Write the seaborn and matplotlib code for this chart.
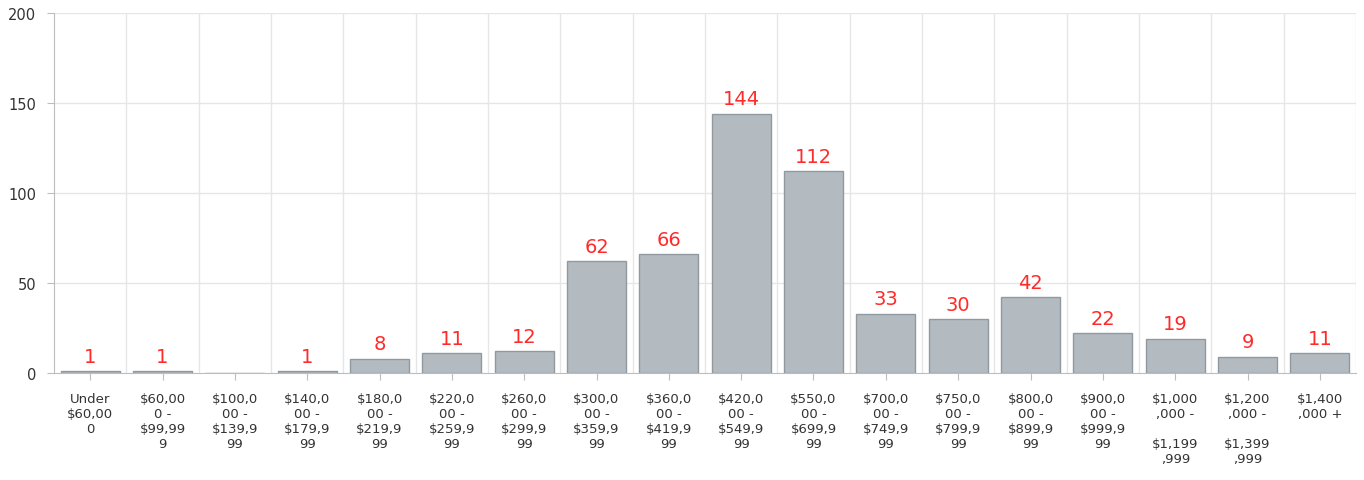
import pandas as pd
import numpy as np
import matplotlib.pyplot as plt
import seaborn as sns

# price ranges (tick labels wrapped as in the original)
categories = [
    "Under\n$60,00\n0", "$60,00\n0 -\n$99,99\n9", "$100,0\n00 -\n$139,9\n99",
    "$140,0\n00 -\n$179,9\n99", "$180,0\n00 -\n$219,9\n99", "$220,0\n00 -\n$259,9\n99",
    "$260,0\n00 -\n$299,9\n99", "$300,0\n00 -\n$359,9\n99", "$360,0\n00 -\n$419,9\n99",
    "$420,0\n00 -\n$549,9\n99", "$550,0\n00 -\n$699,9\n99", "$700,0\n00 -\n$749,9\n99",
    "$750,0\n00 -\n$799,9\n99", "$800,0\n00 -\n$899,9\n99", "$900,0\n00 -\n$999,9\n99",
    "$1,000\n,000 -\n\n$1,199\n,999", "$1,200\n,000 -\n\n$1,399\n,999", "$1,400\n,000 +",
]
counts = [1, 1, 0, 1, 8, 11, 12, 62, 66, 144, 112, 33, 30, 42, 22, 19, 9, 11]
y_ticks = [0, 50, 100, 150, 200]

df = pd.DataFrame({"range": categories, "count": counts})

sns.set_style("white")
plt.rcParams['font.family'] = ['DejaVu Sans']

fig = plt.figure(figsize=(13.64, 4.81), dpi=100)
ax = fig.add_axes([54 / 1364, 1 - 374 / 481, 1302 / 1364, 360 / 481])

sns.barplot(data=df, x="range", y="count", color="#b3bbc1", saturation=1,
            width=0.82, edgecolor="#8f999f", linewidth=1, ax=ax)

ax.set_ylim(0, 200)
ax.set_xlim(-0.5, len(categories) - 0.5)
ax.set_yticks(y_ticks)
ax.set_xlabel("")
ax.set_ylabel("")

# grid: horizontal at ticks, vertical at category boundaries
for y in y_ticks[1:]:
    ax.axhline(y, color="#e6e6e6", lw=1, zorder=0)
for b in np.arange(-0.5, len(categories), 1.0)[1:]:
    ax.axvline(b, color="#e6e6e6", lw=1, zorder=0)
ax.set_axisbelow(True)

for s in ["top", "right"]:
    ax.spines[s].set_visible(False)
ax.spines["left"].set_color("#bdbdbd")
ax.spines["bottom"].set_color("#bdbdbd")

ax.tick_params(axis="x", length=5, color="#bdbdbd", labelsize=9.5, labelcolor="#333333", pad=9)
ax.tick_params(axis="y", length=5, color="#bdbdbd", labelsize=10.5, labelcolor="#333333", pad=8)
ax.tick_params(axis="x", which="both", bottom=True)
ax.tick_params(axis="y", which="both", left=True)
for lbl in ax.get_xticklabels():
    lbl.set_linespacing(1.2)
    lbl.set_verticalalignment("top")

# value labels
for i, v in enumerate(counts):
    if v > 0:
        ax.text(i, v + 3, str(v), ha="center", va="bottom", color="#ff2a2a", fontsize=14)

plt.savefig("out.png", dpi=100)
